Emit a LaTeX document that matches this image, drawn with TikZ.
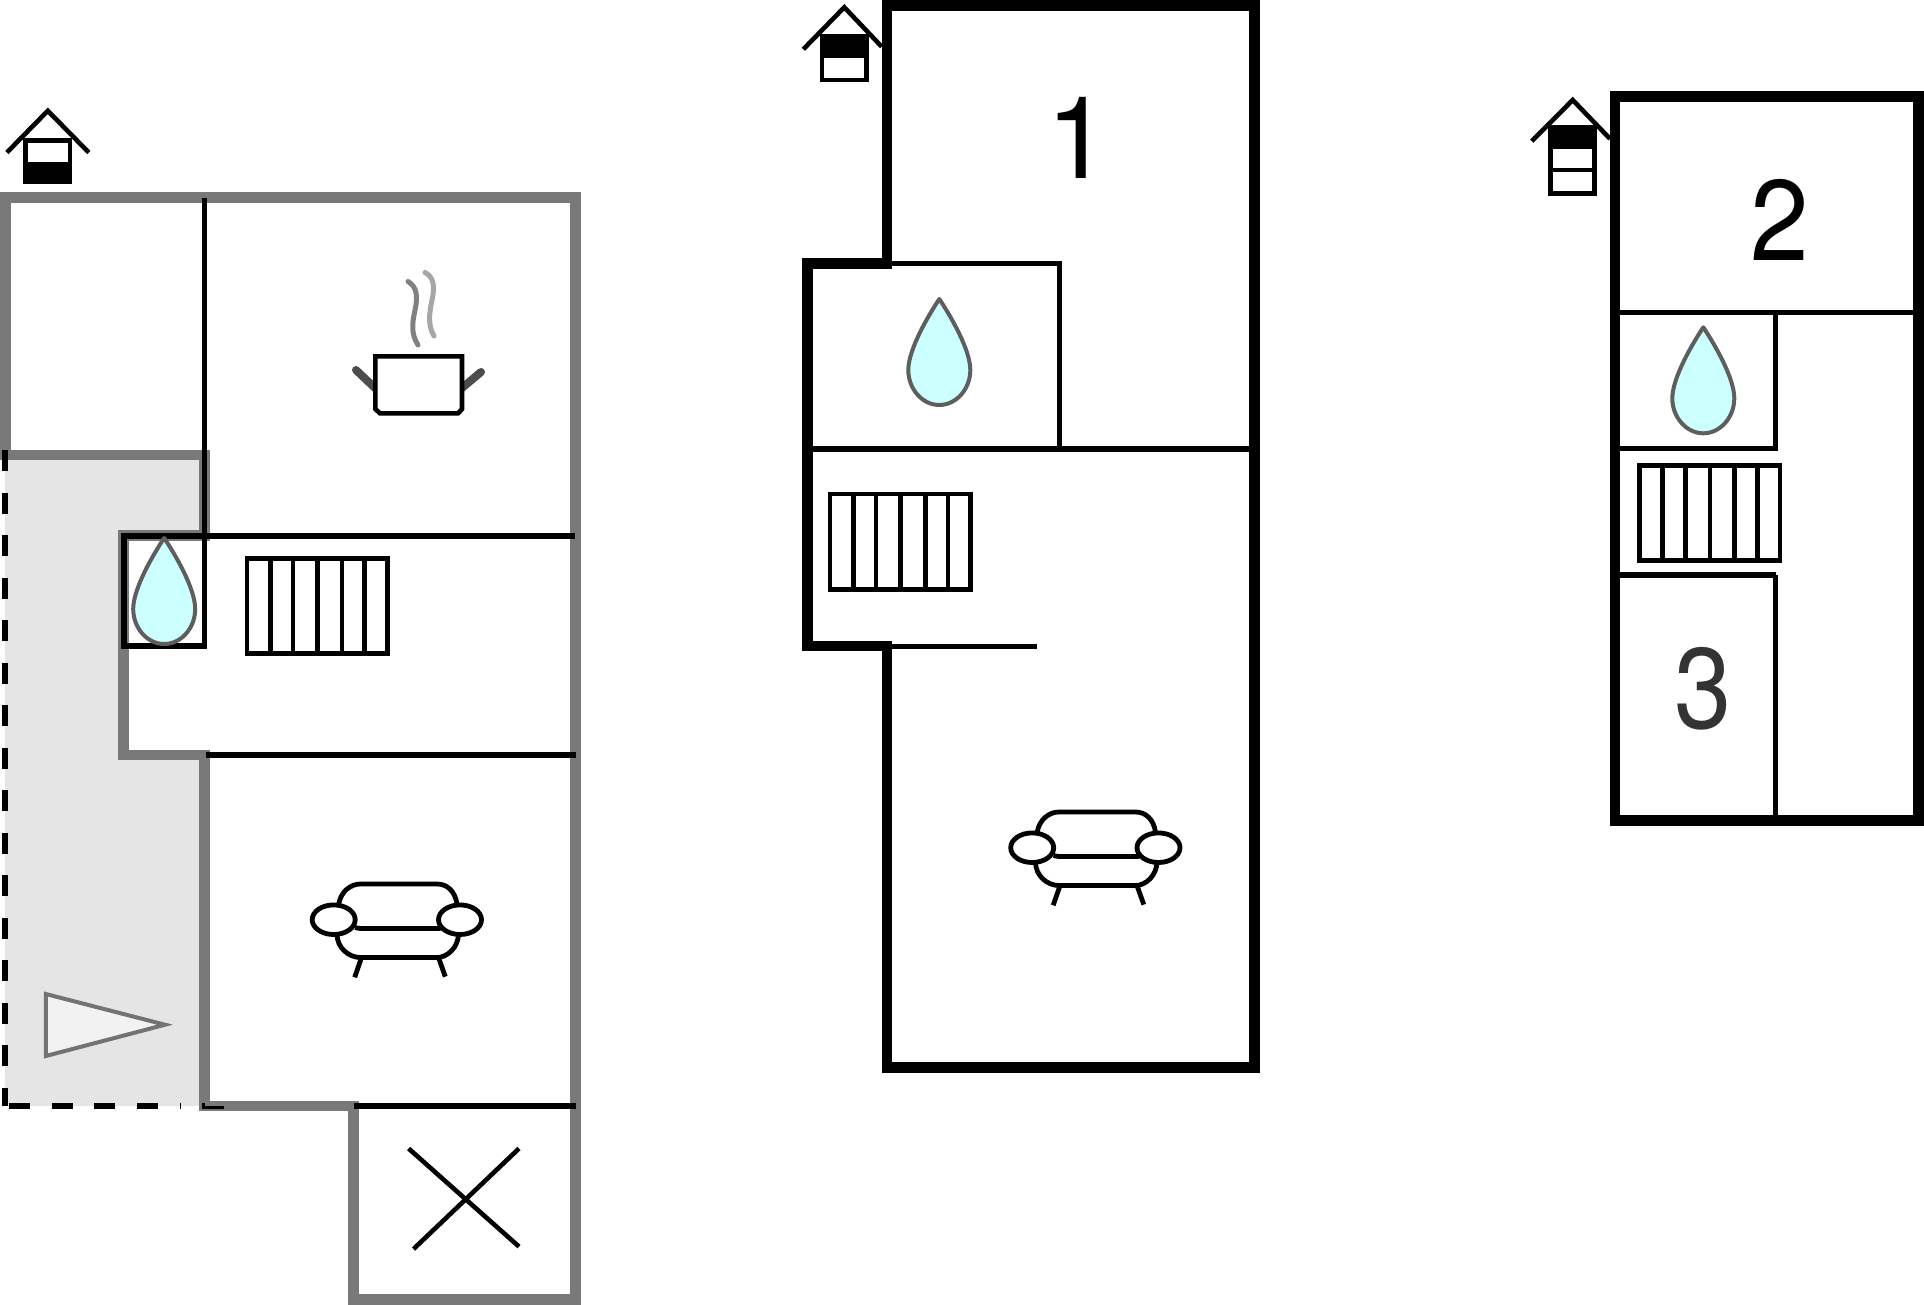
\documentclass[tikz,border=0pt]{standalone}
\usepackage{fontspec}
\setmainfont{TeX Gyre Heros}
\definecolor{wallgray}{HTML}{797979}
\definecolor{yardgray}{HTML}{E5E5E5}
\definecolor{dropfill}{HTML}{CCFFFF}
\definecolor{dropline}{HTML}{5E5E5E}
\tikzset{
  x=1pt,y=-1pt,
  graywall/.style={draw=wallgray,line width=10.9pt,miter limit=10},
  blackwall/.style={draw=black,line width=10.6pt,miter limit=10},
  thinwall/.style={draw=black,line width=5.4pt},
  thinner/.style={draw=black,line width=5.2pt},
  symline/.style={draw=black,line width=4.6pt},
  digit/.style={anchor=base,inner sep=0pt,font=\fontsize{114.5}{114.5}\selectfont},
  pics/sofa/.style={code={
    \begin{scope}[symline,line width=4.8pt]
      \draw (-58.3,20) .. controls (-56,7) and (-46,0) .. (-36.6,0) -- (40,0) .. controls (50,0) and (58,7) .. (60,20);
      \draw (-42,43.5) .. controls (-38,44.5) and (-36,44.5) .. (-33,44.5) -- (38,44.5) .. controls (41,44.5) and (44,44.5) .. (46,43.5);
      \draw (-60,50) .. controls (-60,64) and (-48,73.5) .. (-36.6,73.5) -- (40,73.5) .. controls (50,73.5) and (61,64) .. (61.6,50);
      \draw (-36,75) -- (-42.3,93.3);
      \draw (42,75) -- (48.3,92.6);
      \draw[fill=white] (-63.3,35.7) ellipse [x radius=21.5,y radius=14.8];
      \draw[fill=white] (63,35.7) ellipse [x radius=21.5,y radius=14.8];
    \end{scope}}},
  pics/stairs/.style={code={
    \draw[symline] (0,0) rectangle (140.5,95.3);
    \foreach \sx in {23.4,46,70.5,95.3,117.9} \draw[symline] (\sx,0) -- (\sx,95.3);}},
  pics/drop/.style={code={
    \draw[draw=dropline,line width=4pt,fill=dropfill,line join=round]
      (0,0) .. controls (-10,15) and (-31,50) .. (-31,71)
      .. controls (-31,90) and (-17,106) .. (0,106)
      .. controls (17,106) and (31,90) .. (31,71)
      .. controls (31,50) and (10,15) .. (0,0) -- cycle;}},
}
\begin{document}
\begin{tikzpicture}
\useasboundingbox (0,0) rectangle (1924,1304);
% ---------- left plan ----------
\fill[yardgray] (5,460) -- (204,460) -- (204,535.5) -- (123,535.5) -- (123,755) -- (204,755) -- (204,1106) -- (5,1106) -- cycle;
\draw[graywall] (5.35,455) -- (5.35,197.5) -- (575.25,197.5) -- (575.25,1299.2) -- (353.8,1299.2) -- (353.8,1106) -- (204.4,1106) -- (204.4,755) -- (123.2,755) -- (123.2,535.5) -- (204.4,535.5) -- (204.4,455) -- cycle;
\draw[black,line width=6pt,dash pattern=on 21pt off 21.5pt] (5.4,450) -- (5.4,1106);
\draw[black,line width=6pt,dash pattern=on 21pt off 21.7pt] (9,1106) -- (181,1106);
\draw[black,line width=3pt] (203,1103) -- (203,1107.5) -- (224,1107.5);
\draw[thinner] (204.4,198) -- (204.4,648);
\draw[thinner] (121,536) -- (575,536);
\draw[black,line width=6.4pt] (124,536) -- (124,648);
\draw[thinner] (121,646) -- (207,646);
\draw[thinner] (205.7,755) -- (576,755);
\draw[thinner] (353.8,1106) -- (576,1106);
% triangle marker
\draw[draw=black!55,line width=4pt,fill=black!5,line join=miter] (45.8,994) -- (165,1024.7) -- (45.8,1056) -- cycle;
% pot
\draw[draw=black!70,line width=8pt,line cap=round] (356,370) -- (376,389);
\draw[draw=black!70,line width=8pt,line cap=round] (481,372) -- (462,388);
\draw[symline,fill=white] (375.4,356.4) -- (462,356.4) -- (462,409) -- (458,413.4) -- (380,413.4) -- (375.4,409) -- cycle;
\draw[draw=black!50,line width=5pt,line cap=round] (408,281.5) .. controls (417,287) and (418,296) .. (415,310) .. controls (412,324) and (411,334) .. (418,345);
\draw[draw=black!35,line width=5pt,line cap=round] (425,272.5) .. controls (434,277) and (435,287) .. (432,300) .. controls (429,314) and (428,326) .. (434,336);
% X
\draw[symline] (408.6,1148.5) -- (519,1246.6);
\draw[symline] (519,1148.5) -- (413.5,1249);
\pic at (164.2,538) {drop};
\pic at (246.8,558.3) {stairs};
\pic at (397,884) {sofa};
% house left
\draw[symline,miter limit=10] (6.9,152.5) -- (47.8,110.8) -- (88.8,152.5);
\draw[symline,fill=white] (25.7,140.6) rectangle (70,182);
\fill (23.7,161.6) rectangle (72,184);
% ---------- middle plan ----------
\draw[blackwall] (887,263.2) -- (887,5.3) -- (1254.5,5.3) -- (1254.5,1067.5) -- (887,1067.5) -- (887,646) -- (807.5,646) -- (807.5,263.2) -- cycle;
\draw[thinwall] (887,263.4) -- (1059.2,263.4) -- (1059.2,449);
\draw[thinwall] (807,449) -- (1254,449);
\draw[thinwall] (887,646.5) -- (1037,646.5);
\node[digit] (numone) at (1078,178) {1};
\pic at (939.3,299) {drop};
\pic at (830,494) {stairs};
\pic at (1095.5,812) {sofa};
\draw[symline,miter limit=10] (803.3,49.3) -- (844.3,7.3) -- (881.7,46.7);
\draw[symline,fill=white] (822,36.3) rectangle (866.7,79.8);
\fill (820,34.3) rectangle (868.7,58);
% ---------- right plan ----------
\draw[blackwall] (1615,96.3) -- (1918.7,96.3) -- (1918.7,820.5) -- (1615,820.5) -- cycle;
\draw[thinwall] (1615,312.5) -- (1919,312.5);
\draw[thinwall] (1775.7,312.5) -- (1775.7,448.6) -- (1615,448.6);
\draw[thinwall] (1615,575) -- (1775.7,575);
\draw[thinwall] (1775.7,575) -- (1775.7,820);
\node[digit,xscale=0.92] (numtwo) at (1780,260) {2};
\node[digit,xscale=0.9,text=black!80] (numthree) at (1703,728) {3};
\pic at (1703.3,327.3) {drop};
\pic at (1639.3,465.3) {stairs};
\draw[symline,miter limit=10] (1531.7,141.2) -- (1572.7,100) -- (1610,138.8);
\draw[symline,fill=white] (1550.3,127.7) rectangle (1594.7,193.3);
\draw[symline] (1550.3,170) -- (1594.7,170);
\fill (1548.3,125.7) rectangle (1596.7,149);
\end{tikzpicture}
\end{document}
